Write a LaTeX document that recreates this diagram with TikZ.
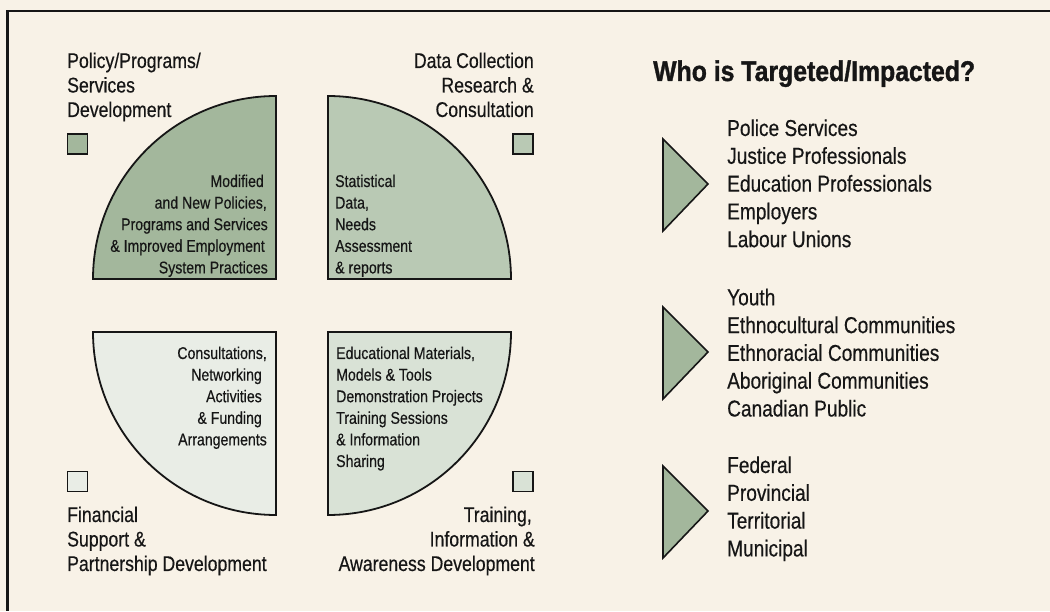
\documentclass[tikz,border=0pt]{standalone}
\usepackage{fontspec}
\setmainfont{Liberation Sans}[FakeStretch=0.83, FakeBold=0.4]
\newfontfamily\headfont{Liberation Sans}[FakeStretch=0.87, FakeBold=1.2]
\usetikzlibrary{calc}

\definecolor{paper}{HTML}{F8F2E7}
\definecolor{ink}{HTML}{161616}
\definecolor{greenA}{HTML}{A3B79C}
\definecolor{greenB}{HTML}{B9C9B4}
\definecolor{greenC}{HTML}{E9EDE6}
\definecolor{greenD}{HTML}{D9E2D6}

% stacked lines, baseline at the first line
\newcommand{\stackL}[1]{\begin{tabular}[t]{@{}l@{}}#1\end{tabular}}
\newcommand{\stackR}[1]{\begin{tabular}[t]{@{}r@{}}#1\end{tabular}}

\tikzset{
  outline/.style={draw=ink, line width=1.8pt, line join=miter},
  swatch/.style={draw=ink, line width=1.6pt, minimum size=20pt, inner sep=0pt},
  pointer/.style={draw=ink, line width=1.6pt, fill=greenA, line join=miter},
  heading/.style={inner sep=0pt, text=ink, font=\fontsize{21.3}{24.5}\selectfont},
  inner/.style={inner sep=0pt, text=ink, font=\fontsize{17}{21.6}\selectfont},
  target/.style={inner sep=0pt, text=ink, font=\fontsize{23}{27.8}\selectfont},
  title/.style={inner sep=0pt, text=ink, font=\headfont\bfseries\fontsize{28.5}{30}\selectfont},
}

\begin{document}
\begin{tikzpicture}[x=1pt, y=1pt]
  % page and frame
  \fill[paper] (0,0) rectangle (1050,611);
  \useasboundingbox (0,0) rectangle (1050,611);
  \draw[ink, line width=2.2pt] (1050,600) -- (7.5,600) -- (7.5,0);

  % four quarter discs
  \coordinate (c1) at (276,332);
  \coordinate (c2) at (328,332);
  \coordinate (c3) at (276,279);
  \coordinate (c4) at (328,279);
  \draw[outline, fill=greenA] (c1) -- ++(-183,0) arc[start angle=180, end angle=90, radius=183] -- cycle;
  \draw[outline, fill=greenB] (c2) -- ++(0,183) arc[start angle=90, end angle=0, radius=183] -- cycle;
  \draw[outline, fill=greenC] (c3) -- ++(0,-183) arc[start angle=270, end angle=180, radius=183] -- cycle;
  \draw[outline, fill=greenD] (c4) -- ++(183,0) arc[start angle=0, end angle=-90, radius=183] -- cycle;

  % colour keys
  \node[swatch, fill=greenA] (k1) at (77.5,467) {};
  \node[swatch, fill=greenB] (k2) at (523,467) {};
  \node[swatch, fill=greenC] (k3) at (77.5,129.5) {};
  \node[swatch, fill=greenD] (k4) at (523,129.5) {};

  % quadrant headings
  \node[heading, anchor=base west] (h1) at (67,543) {\stackL{Policy/Programs/\\Services\\Development}};
  \node[heading, anchor=base east] (h2) at (534,543) {\stackR{Data Collection\\Research \&\\Consultation}};
  \node[heading, anchor=base west] (h3) at (67,89) {\stackL{Financial\\Support \&\\Partnership Development}};
  \node[heading, anchor=base east] (h4) at (535,89) {\stackR{Training,\hspace*{3pt}\\Information \&\\Awareness Development}};

  % quadrant contents
  \node[inner, anchor=base east] (q1) at (268,424) {\stackR{Modified\hspace*{4pt}\\and New Policies,\hspace*{1pt}\\Programs and Services\\\& Improved Employment\hspace*{3pt}\\System Practices}};
  \node[inner, anchor=base west] (q2) at (335,424) {\stackL{Statistical\\Data,\\Needs\\Assessment\\\& reports}};
  \node[inner, anchor=base east] (q3) at (267,252) {\stackR{Consultations,\\Networking\hspace*{5pt}\\Activities\hspace*{5pt}\\\& Funding\hspace*{5pt}\\Arrangements}};
  \node[inner, anchor=base west] (q4) at (336,252) {\stackL{Educational Materials,\\Models \& Tools\\Demonstration Projects\\Training Sessions\\\& Information\\Sharing}};

  % target groups
  \node[title, anchor=base west] (ttl) at (653,530) {Who is Targeted/Impacted?};

  \draw[pointer] (663,472) -- (663,380) -- (708,427) -- cycle;
  \draw[pointer] (663,304) -- (663,212) -- (708,259) -- cycle;
  \draw[pointer] (663,145) -- (663,53) -- (708,100) -- cycle;

  \node[target, anchor=base west] (g1) at (727,475) {\stackL{Police Services\\Justice Professionals\\Education Professionals\\Employers\\Labour Unions}};
  \node[target, anchor=base west] (g2) at (727,305.7) {\stackL{Youth\\Ethnocultural Communities\\Ethnoracial Communities\\Aboriginal Communities\\Canadian Public}};
  \node[target, anchor=base west] (g3) at (727,138) {\stackL{Federal\\Provincial\\Territorial\\Municipal}};
\end{tikzpicture}
\end{document}
